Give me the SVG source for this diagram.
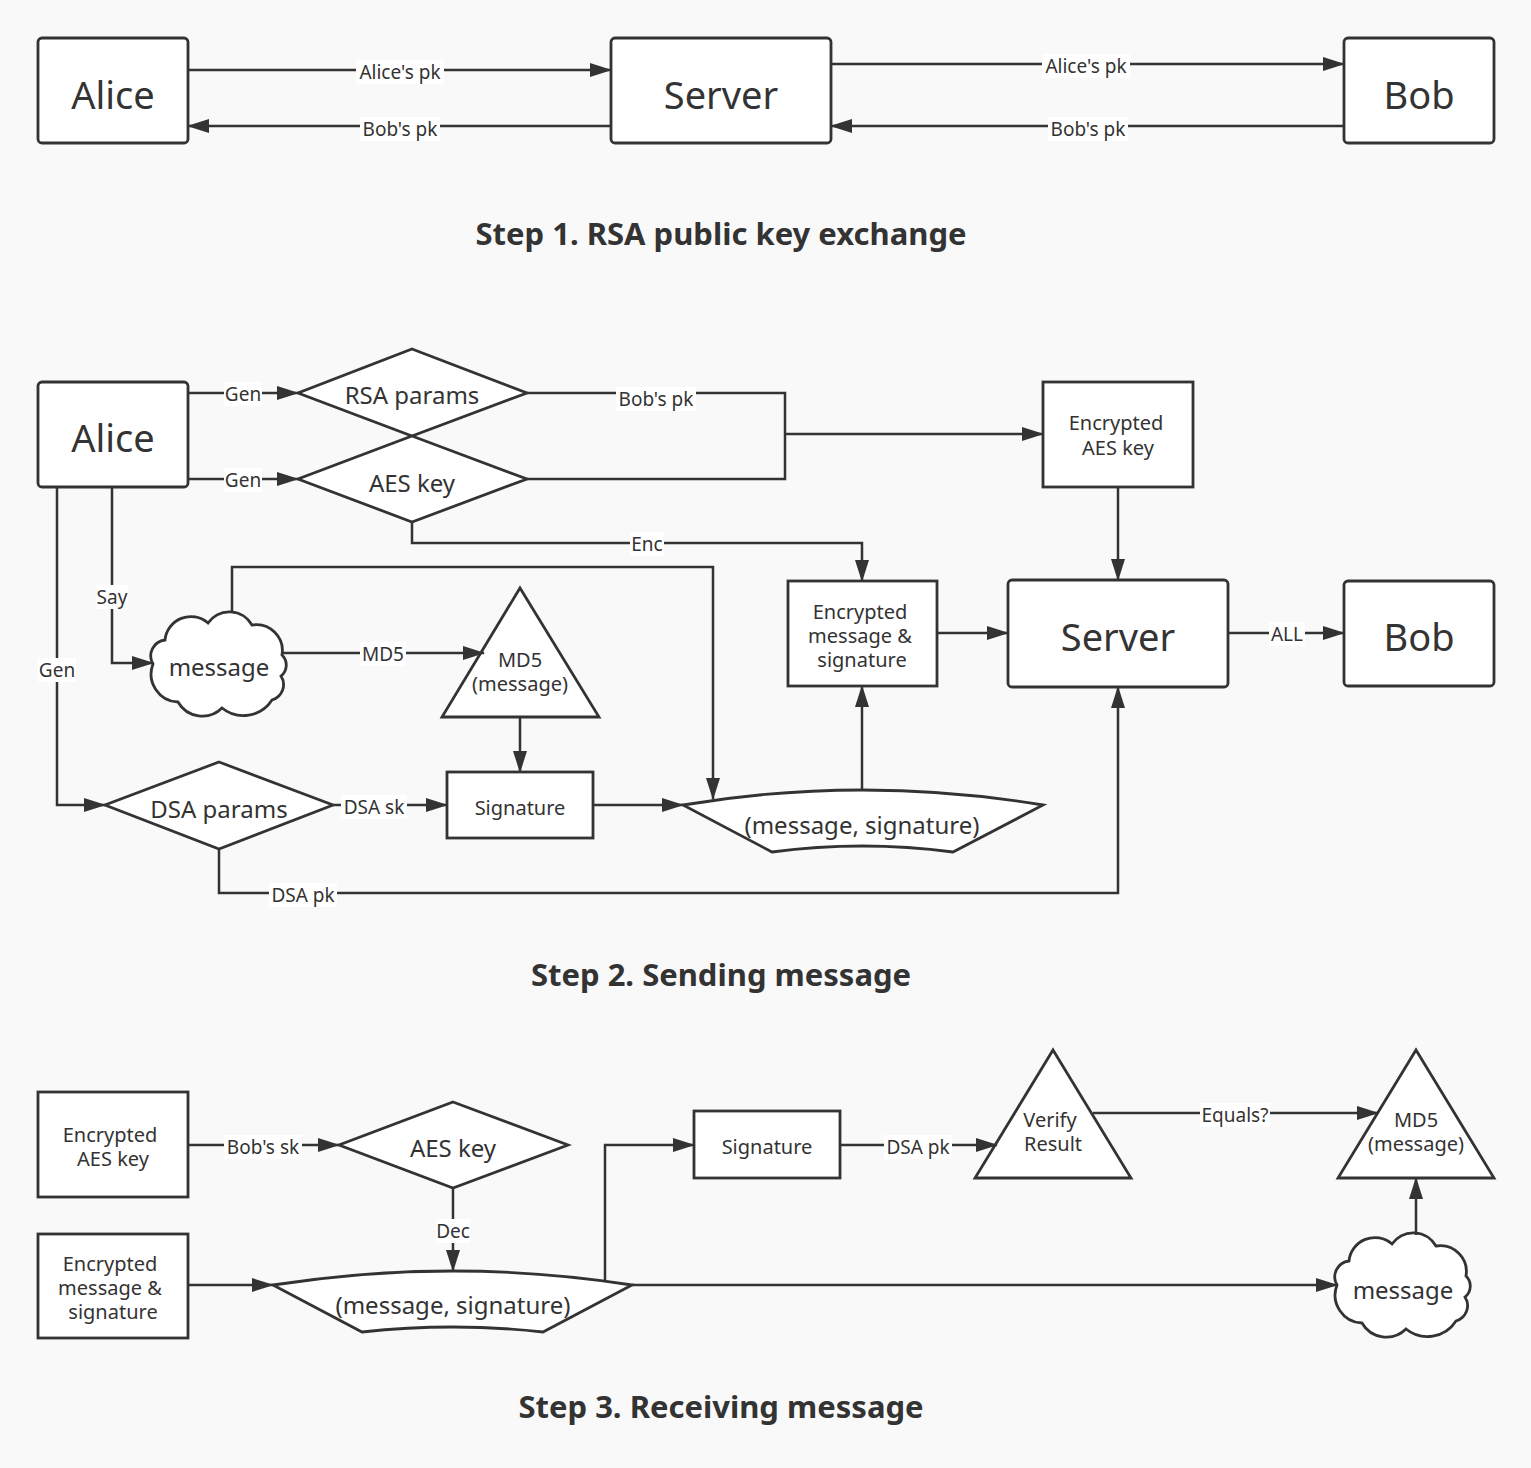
<svg xmlns="http://www.w3.org/2000/svg" width="1531" height="1468" viewBox="0 0 1531 1468">
<defs>
<marker id="arr" markerUnits="userSpaceOnUse" markerWidth="22" markerHeight="14" refX="21" refY="7" orient="auto"><path d="M0,0 L22,7 L0,14 Z" fill="#333"/></marker>
<path id="cloud" d="M165,640 A26,26 0 0 1 208,623 A26,26 0 0 1 252,625 A26,26 0 0 1 282,655 A14,14 0 0 1 281,676 A16,16 0 0 1 272,700 A34,34 0 0 1 222,708 A28,28 0 0 1 178,702 A28,28 0 0 1 153,664 A16,16 0 0 1 165,640 Z"/>
<style>
text{font-family:"Noto Sans","Open Sans",sans-serif;fill:#333;text-anchor:middle;dominant-baseline:central}
.n{fill:#fff;stroke:#333;stroke-width:2.8}
.big{font-size:38px}
.mid{font-size:24px}
.sm{font-size:20px}
.c path{fill:none;stroke:#333;stroke-width:2.5}
.lb rect{fill:#fff}
.lb text{font-size:19px}
.title{font-size:31px;font-weight:bold}
</style>
</defs>
<rect width="1531" height="1468" fill="#f9f9f9"/>

<!-- Step 1 nodes -->
<g id="s1-alice"><rect class="n" x="38" y="38" width="150" height="105" rx="4"/><text class="big" x="113" y="94">Alice</text></g>
<g id="s1-server"><rect class="n" x="611" y="38" width="220" height="105" rx="4"/><text class="big" x="721" y="94">Server</text></g>
<g id="s1-bob"><rect class="n" x="1344" y="38" width="150" height="105" rx="4"/><text class="big" x="1419" y="94">Bob</text></g>

<!-- Step 2 nodes -->
<g id="s2-alice"><rect class="n" x="38" y="382" width="150" height="105" rx="4"/><text class="big" x="113" y="437">Alice</text></g>
<g id="s2-rsa"><path class="n" d="M412,349 L527,393 L412,436 L298,393 Z"/><text class="mid" x="412" y="394">RSA params</text></g>
<g id="s2-aes"><path class="n" d="M412,436 L527,479 L412,522 L298,479 Z"/><text class="mid" x="412" y="482">AES key</text></g>
<g id="s2-encaes"><rect class="n" x="1043" y="382" width="150" height="105"/><text class="sm" x="1116" y="422">Encrypted</text><text class="sm" x="1118" y="447">AES key</text></g>
<g id="s2-server"><rect class="n" x="1008" y="580" width="220" height="107" rx="4"/><text class="big" x="1118" y="636">Server</text></g>
<g id="s2-bob"><rect class="n" x="1344" y="581" width="150" height="105" rx="4"/><text class="big" x="1419" y="636">Bob</text></g>
<g id="s2-encmsg"><rect class="n" x="788" y="581" width="149" height="105"/><text class="sm" x="860" y="611">Encrypted</text><text class="sm" x="860" y="635">message &amp;</text><text class="sm" x="862" y="659">signature</text></g>
<g id="s2-message"><use href="#cloud" class="n"/><text class="mid" x="219" y="666">message</text></g>
<g id="s2-md5"><path class="n" d="M520,588 L599,717 L442,717 Z"/><text class="sm" x="520" y="659">MD5</text><text class="sm" x="520" y="683">(message)</text></g>
<g id="s2-sig"><rect class="n" x="447" y="772" width="146" height="66"/><text class="sm" x="520" y="807">Signature</text></g>
<g id="s2-dsa"><path class="n" d="M219,762 L333,805 L219,849 L105,805 Z"/><text class="mid" x="219" y="808">DSA params</text></g>
<g id="s2-msgsig"><path class="n" d="M683,805 Q862,775 1043,805 L953,852 Q862,840 772,852 Z"/><text class="mid" x="862" y="824">(message, signature)</text></g>

<!-- Step 3 nodes -->
<g id="s3-encaes"><rect class="n" x="38" y="1092" width="150" height="105"/><text class="sm" x="110" y="1134">Encrypted</text><text class="sm" x="113" y="1158">AES key</text></g>
<g id="s3-encmsg"><rect class="n" x="38" y="1234" width="150" height="104"/><text class="sm" x="110" y="1263">Encrypted</text><text class="sm" x="110" y="1287">message &amp;</text><text class="sm" x="113" y="1311">signature</text></g>
<g id="s3-aes"><path class="n" d="M453,1102 L568,1145 L453,1188 L339,1145 Z"/><text class="mid" x="453" y="1147">AES key</text></g>
<g id="s3-msgsig"><path class="n" d="M273,1285 Q453,1257 632,1285 L543,1332 Q453,1322 362,1332 Z"/><text class="mid" x="453" y="1304">(message, signature)</text></g>
<g id="s3-sig"><rect class="n" x="694" y="1111" width="146" height="67"/><text class="sm" x="767" y="1146">Signature</text></g>
<g id="s3-verify"><path class="n" d="M1053,1050 L1131,1178 L975,1178 Z"/><text class="sm" x="1050" y="1119">Verify</text><text class="sm" x="1053" y="1143">Result</text></g>
<g id="s3-md5"><path class="n" d="M1416,1050 L1494,1178 L1338,1178 Z"/><text class="sm" x="1416" y="1119">MD5</text><text class="sm" x="1416" y="1143">(message)</text></g>
<g id="s3-message"><use href="#cloud" class="n" transform="translate(1184,621)"/><text class="mid" x="1403" y="1289">message</text></g>

<!-- Connectors -->
<g id="connectors" class="c">
<path d="M188,70 L611,70" marker-end="url(#arr)"/>
<path d="M611,126 L188,126" marker-end="url(#arr)"/>
<path d="M831,64 L1344,64" marker-end="url(#arr)"/>
<path d="M1344,126 L831,126" marker-end="url(#arr)"/>

<path d="M188,393 L298,393" marker-end="url(#arr)"/>
<path d="M188,479 L298,479" marker-end="url(#arr)"/>
<path d="M527,393 L785,393 L785,479 L527,479"/>
<path d="M785,434 L1043,434" marker-end="url(#arr)"/>
<path d="M1118,487 L1118,580" marker-end="url(#arr)"/>
<path d="M412,522 L412,543 L862,543 L862,581" marker-end="url(#arr)"/>
<path d="M937,633 L1008,633" marker-end="url(#arr)"/>
<path d="M1228,633 L1344,633" marker-end="url(#arr)"/>
<path d="M112,487 L112,663 L153,663" marker-end="url(#arr)"/>
<path d="M57,487 L57,805 L105,805" marker-end="url(#arr)"/>
<path d="M232,612 L232,567 L713,567 L713,799" marker-end="url(#arr)"/>
<path d="M283,653 L484,653" marker-end="url(#arr)"/>
<path d="M520,717 L520,772" marker-end="url(#arr)"/>
<path d="M333,805 L447,805" marker-end="url(#arr)"/>
<path d="M593,805 L683,805" marker-end="url(#arr)"/>
<path d="M862,790 L862,686" marker-end="url(#arr)"/>
<path d="M219,849 L219,893 L1118,893 L1118,687" marker-end="url(#arr)"/>

<path d="M188,1145 L339,1145" marker-end="url(#arr)"/>
<path d="M453,1188 L453,1271" marker-end="url(#arr)"/>
<path d="M188,1285 L273,1285" marker-end="url(#arr)"/>
<path d="M605,1280 L605,1145 L694,1145" marker-end="url(#arr)"/>
<path d="M840,1145 L997,1145" marker-end="url(#arr)"/>
<path d="M1093,1113 L1378,1113" marker-end="url(#arr)"/>
<path d="M632,1285 L1337,1285" marker-end="url(#arr)"/>
<path d="M1416,1235 L1416,1178" marker-end="url(#arr)"/>
</g>

<!-- Connector labels -->
<g id="labels" class="lb">
<rect x="356" y="60" width="88" height="24"/><text x="400" y="72">Alice's pk</text>
<rect x="360" y="117" width="80" height="24"/><text x="400" y="129">Bob's pk</text>
<rect x="1042" y="54" width="88" height="24"/><text x="1086" y="66">Alice's pk</text>
<rect x="1048" y="117" width="80" height="24"/><text x="1088" y="129">Bob's pk</text>

<rect x="224" y="382" width="38" height="24"/><text x="243" y="394">Gen</text>
<rect x="224" y="468" width="38" height="24"/><text x="243" y="480">Gen</text>
<rect x="616" y="387" width="80" height="24"/><text x="656" y="399">Bob's pk</text>
<rect x="630" y="532" width="34" height="24"/><text x="647" y="544">Enc</text>
<rect x="96" y="585" width="32" height="24"/><text x="112" y="597">Say</text>
<rect x="38" y="658" width="38" height="24"/><text x="57" y="670">Gen</text>
<rect x="360" y="642" width="46" height="24"/><text x="383" y="654">MD5</text>
<rect x="341" y="795" width="66" height="24"/><text x="374" y="807">DSA sk</text>
<rect x="1269" y="622" width="36" height="24"/><text x="1287" y="634">ALL</text>
<rect x="269" y="883" width="68" height="24"/><text x="303" y="895">DSA pk</text>

<rect x="224" y="1135" width="78" height="24"/><text x="263" y="1147">Bob's sk</text>
<rect x="436" y="1219" width="34" height="24"/><text x="453" y="1231">Dec</text>
<rect x="884" y="1135" width="68" height="24"/><text x="918" y="1147">DSA pk</text>
<rect x="1200" y="1103" width="70" height="24"/><text x="1235" y="1115">Equals?</text>
</g>

<g id="titles">
<text class="title" x="721" y="233">Step 1. RSA public key exchange</text>
<text class="title" x="721" y="974">Step 2. Sending message</text>
<text class="title" x="721" y="1406">Step 3. Receiving message</text>
</g>
</svg>
